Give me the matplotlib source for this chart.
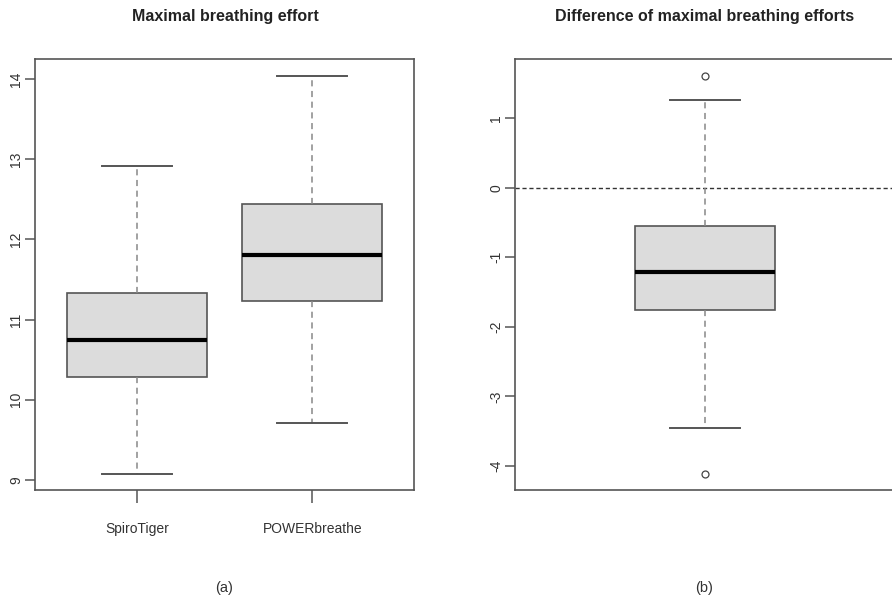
import matplotlib
matplotlib.use("Agg")
import matplotlib.pyplot as plt
from matplotlib import font_manager

# ---- data ----
groups = ["SpiroTiger", "POWERbreathe"]
whislo = [9.08, 9.71]
q1 = [10.29, 11.23]
med = [10.745, 11.81]
q3 = [11.33, 12.44]
whishi = [12.91, 14.04]
left_yticks = [9, 10, 11, 12, 13, 14]

diff_whislo = -3.45
diff_q1 = -1.76
diff_med = -1.21
diff_q3 = -0.555
diff_whishi = 1.26
diff_fliers = [1.604, -4.115]
right_yticks = [-4, -3, -2, -1, 0, 1]

titles = ["Maximal breathing effort", "Difference of maximal breathing efforts"]
panel_labels = ["(a)", "(b)"]

# ---- fonts ----
names = {f.name for f in font_manager.fontManager.ttflist}
narrow = "Liberation Sans Narrow" if "Liberation Sans Narrow" in names else "Liberation Sans"
fam = [narrow, "DejaVu Sans"]
plt.rcParams['font.family'] = fam

TXT = "#333333"
AX = "#555555"

W, H = 892, 599
fig = plt.figure(figsize=(W / 100, H / 100), dpi=100)

def axes_px(x0, x1, y0, y1):
    return fig.add_axes([x0 / W, 1 - y1 / H, (x1 - x0) / W, (y1 - y0) / H])

boxprops = dict(facecolor="#dcdcdc", edgecolor=AX, linewidth=1.2)
whiskerprops = dict(color="#888888", linestyle=(0, (4, 3)), linewidth=1.1)
capprops = dict(color=AX, linewidth=1.4)
medianprops = dict(color="black", linewidth=3)
flierprops = dict(marker="o", markerfacecolor="none", markeredgecolor="#444444",
                  markersize=5, markeredgewidth=0.9, linestyle="none")

def style_axis(ax, yticks):
    for s in ax.spines.values():
        s.set_color(AX)
        s.set_linewidth(1.2)
    ax.set_yticks(yticks)
    ax.set_yticklabels([str(t) for t in yticks], rotation=90, va="center",
                       fontsize=10, color=TXT)
    ax.tick_params(axis="y", length=7, width=1.1, color=AX, pad=1.5)

# ---- left panel ----
ax1 = axes_px(35, 414, 59, 490)
stats1 = []
for i, g in enumerate(groups):
    stats1.append(dict(label=g, whislo=whislo[i], q1=q1[i], med=med[i],
                       q3=q3[i], whishi=whishi[i], fliers=[]))
ax1.bxp(stats1, positions=[1, 2], widths=0.8, capwidths=0.4, patch_artist=True,
        boxprops=boxprops, whiskerprops=whiskerprops, capprops=capprops,
        medianprops=medianprops, flierprops=flierprops, showfliers=True)
ax1.set_xlim(0.42, 2.58)
ax1.set_ylim(8.875, 14.25)
style_axis(ax1, left_yticks)
ax1.set_xticks([1, 2])
ax1.set_xticklabels(groups, fontsize=10, color=TXT)
ax1.tick_params(axis="x", length=9, width=1.1, color=AX, pad=14)

# ---- right panel ----
ax2 = axes_px(515, 895, 59, 490)
stats2 = [dict(label="", whislo=diff_whislo, q1=diff_q1, med=diff_med,
               q3=diff_q3, whishi=diff_whishi, fliers=diff_fliers)]
ax2.bxp(stats2, positions=[1], widths=0.4, capwidths=0.2, patch_artist=True,
        boxprops=boxprops, whiskerprops=whiskerprops, capprops=capprops,
        medianprops=medianprops, flierprops=flierprops, showfliers=True)
ax2.axhline(0, color="#333333", linestyle=(0, (3, 2)), linewidth=1.0, zorder=0.5)
ax2.set_xlim(0.46, 1.54)
ax2.set_ylim(-4.345, 1.849)
style_axis(ax2, right_yticks)
ax2.set_xticks([])

# ---- titles / labels ----
fig.text(225 / W, 1 - 17 / H, titles[0], ha="center", va="center",
         fontsize=11.5, fontweight="bold", color="#222222")
fig.text(705 / W, 1 - 17 / H, titles[1], ha="center", va="center",
         fontsize=11.5, fontweight="bold", color="#222222")
fig.text(224 / W, 1 - 588 / H, panel_labels[0], ha="center", va="center",
         fontsize=10.5, color=TXT)
fig.text(704 / W, 1 - 588 / H, panel_labels[1], ha="center", va="center",
         fontsize=10.5, color=TXT)

fig.savefig("out.png", dpi=100, facecolor="white")
